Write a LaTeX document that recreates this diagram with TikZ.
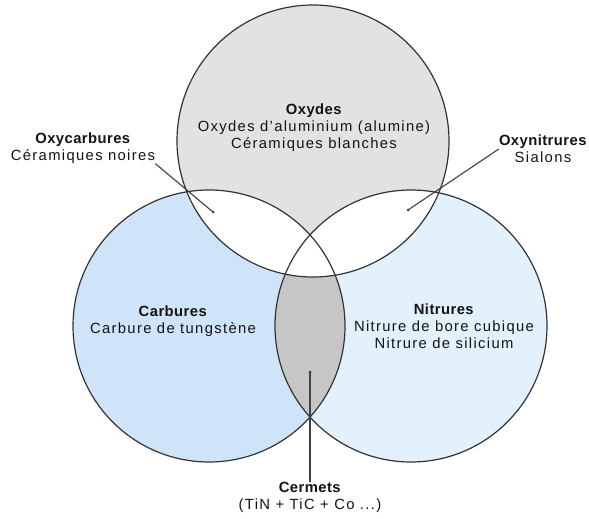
\documentclass[tikz,border=0pt]{standalone}
\usepackage{fontspec}
\setmainfont{Liberation Sans}[LetterSpace=9,BoldFeatures={LetterSpace=3}]
\definecolor{oxgray}{HTML}{E2E2E2}
\definecolor{carbblue}{HTML}{CFE4F8}
\definecolor{nitblue}{HTML}{E3F1FC}
\definecolor{cermgray}{HTML}{C6C6C6}
\begin{document}
\begin{tikzpicture}[x=1pt,y=-1pt,
  outl/.style={draw=black!80,line width=1.2pt},
  lab/.style={align=center,font=\fontsize{14.8}{17}\selectfont,text=black!92,inner sep=0pt},
  leader/.style={draw=black!75,line width=1.1pt},
  tipdot/.style={circle,fill=black!75,inner sep=0pt,minimum size=3pt}]
\useasboundingbox (0,0) rectangle (589,519);
\fill[white] (0,0) rectangle (589,519);
\coordinate (O) at (313,141);
\coordinate (C) at (209,326);
\coordinate (N) at (411,326);
\def\R{136}
% fills
\fill[oxgray] (O) circle[radius=\R];
\fill[carbblue] (C) circle[radius=\R];
\fill[nitblue] (N) circle[radius=\R];
\begin{scope}
  \clip (C) circle[radius=\R];
  \fill[cermgray] (N) circle[radius=\R];
\end{scope}
\begin{scope}
  \clip (O) circle[radius=\R];
  \fill[white] (C) circle[radius=\R];
  \fill[white] (N) circle[radius=\R];
\end{scope}
% outlines
\draw[outl] (O) circle[radius=\R];
\draw[outl] (C) circle[radius=\R];
\draw[outl] (N) circle[radius=\R];
% labels
\node[lab] (oxy) at (314,128) {\textbf{Oxydes}\\Oxydes d'aluminium (alumine)\\Céramiques blanches};
\node[lab] (ocarb) at (83,148) {\textbf{Oxycarbures}\\Céramiques noires};
\node[lab] (onit) at (543,149) {\textbf{Oxynitrures}\\Sialons};
\node[lab] (carb) at (173,321) {\textbf{Carbures}\\Carbure de tungstène};
\node[lab] (nit) at (444,326) {\textbf{Nitrures}\\Nitrure de bore cubique\\Nitrure de silicium};
\node[lab] (cerm) at (310,497) {\textbf{Cermets}\\(TiN + TiC + Co ...)};
% leaders
\coordinate (ocEnd) at (213,212);
\coordinate (onEnd) at (408,210);
\coordinate (ceEnd) at (310,372);
\draw[leader] (ocarb.south east) -- (ocEnd);
\draw[leader] (onit.west) -- (onEnd);
\draw[leader] (cerm.north) -- (ceEnd);
\node[tipdot] at (ocEnd) {};
\node[tipdot] at (onEnd) {};
\node[tipdot] at (ceEnd) {};
\end{tikzpicture}
\end{document}
